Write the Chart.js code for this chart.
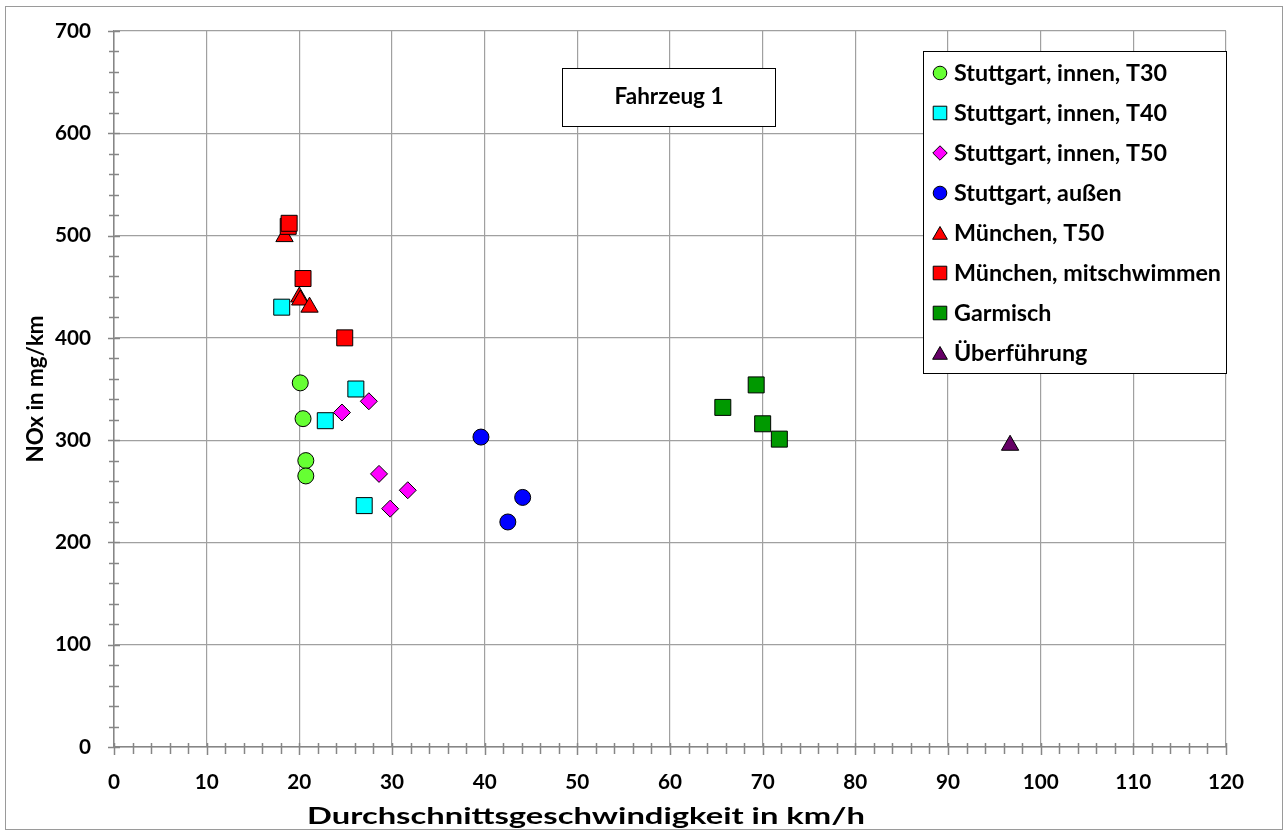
<!DOCTYPE html>
<html>
<head>
<meta charset="utf-8">
<script src="https://cdn.jsdelivr.net/npm/chart.js@4/dist/chart.umd.min.js"></script>
<style>
  html, body { margin: 0; padding: 0; background: #fff; }
  #wrap { position: relative; width: 1285px; height: 834px; }
</style>
</head>
<body>
<div id="wrap"><canvas id="noxChart"></canvas></div>
<script>
// values
const seriesNames = [
    'Stuttgart, innen, T30',
    'Stuttgart, innen, T40',
    'Stuttgart, innen, T50',
    'Stuttgart, außen',
    'München, T50',
    'München, mitschwimmen',
    'Garmisch',
    'Überführung'
];
const t30Speed = [20.1, 20.4, 20.7, 20.7];
const t30NOx = [356, 321, 280, 265];
const t40Speed = [18.1, 26.1, 22.8, 27.0];
const t40NOx = [430, 350, 319, 236];
const t50Speed = [27.5, 24.6, 28.6, 31.7, 29.8];
const t50NOx = [338, 327, 267, 251, 233];
const aussenSpeed = [39.6, 44.1, 42.5];
const aussenNOx = [303, 244, 220];
const muT50Speed = [18.4, 20.0, 20.1, 21.1];
const muT50NOx = [499, 440, 437, 430];
const muMitSpeed = [18.8, 18.9, 20.4, 24.9];
const muMitNOx = [509, 512, 458, 400];
const garmischSpeed = [69.3, 65.7, 70.0, 71.8];
const garmischNOx = [354, 332, 316, 301];
const ueberSpeed = [96.7];
const ueberNOx = [295];

const xTicks = [0, 10, 20, 30, 40, 50, 60, 70, 80, 90, 100, 110, 120];
const yTicks = [0, 100, 200, 300, 400, 500, 600, 700];

const FONT = 'Lato, "Open Sans", sans-serif';

function toPoints(xs, ys) {
    return xs.map((x, i) => ({ x: x, y: ys[i] }));
}

const styles = [
    { color: '#66ff33', shape: 'circle', r: 8 },
    { color: '#00ffff', shape: 'rect', r: 11.3 },
    { color: '#ff00ff', shape: 'rectRot', r: 8.5 },
    { color: '#0000ff', shape: 'circle', r: 8 },
    { color: '#ff0000', shape: 'triangle', r: 10 },
    { color: '#ff0000', shape: 'rect', r: 11.3 },
    { color: '#009900', shape: 'rect', r: 11.3 },
    { color: '#660066', shape: 'triangle', r: 10 }
];

const seriesData = [
    toPoints(t30Speed, t30NOx),
    toPoints(t40Speed, t40NOx),
    toPoints(t50Speed, t50NOx),
    toPoints(aussenSpeed, aussenNOx),
    toPoints(muT50Speed, muT50NOx),
    toPoints(muMitSpeed, muMitNOx),
    toPoints(garmischSpeed, garmischNOx),
    toPoints(ueberSpeed, ueberNOx)
];

const datasets = seriesNames.map((name, i) => ({
    label: name,
    data: seriesData[i],
    pointStyle: styles[i].shape,
    pointRadius: styles[i].r,
    pointHoverRadius: styles[i].r,
    backgroundColor: styles[i].color,
    borderColor: '#000',
    borderWidth: 1,
    order: seriesNames.length - i // later series drawn on top, like Excel
}));

// the reference text is a bit wider than Lato, so draw it with a horizontal scale
function stretchText(ctx, text, x, y, size, sx, align) {
    ctx.save();
    ctx.font = 'bold ' + size + 'px ' + FONT;
    ctx.textAlign = align;
    ctx.textBaseline = 'middle';
    ctx.translate(x, y);
    ctx.scale(sx, 1);
    ctx.fillText(text, 0, 0);
    ctx.restore();
}

function widthFactor(ctx, text, size, target) {
    ctx.save();
    ctx.font = 'bold ' + size + 'px ' + FONT;
    const w = ctx.measureText(text).width;
    ctx.restore();
    return target / w;
}

// outer frame, minor ticks, tick labels, text box, legend and axis titles
const Decorations = {
    id: 'decorations',
    beforeDraw(chart) {
        const ctx = chart.ctx;
        ctx.save();
        ctx.fillStyle = '#fff';
        ctx.fillRect(0, 0, chart.width, chart.height);
        ctx.strokeStyle = '#9a9a9a';
        ctx.lineWidth = 1;
        ctx.strokeRect(5.5, 6.5, 1277, 823);
        ctx.restore();
    },
    afterDraw(chart) {
        const ctx = chart.ctx;
        const xs = chart.scales.x;
        const ys = chart.scales.y;
        const x0 = xs.getPixelForValue(0);
        const y0 = ys.getPixelForValue(0);

        ctx.save();
        ctx.strokeStyle = '#868686';
        ctx.lineWidth = 1.5;
        ctx.beginPath();
        for (let v = 0; v <= 700; v += 20) {
            const py = Math.round(ys.getPixelForValue(v)) + 0.5;
            const len = v % 100 === 0 ? 6 : 5;
            ctx.moveTo(x0 - len, py);
            ctx.lineTo(x0 + len, py);
        }
        for (let v = 0; v <= 120; v += 2) {
            const px = Math.round(xs.getPixelForValue(v)) + 0.5;
            const len = v % 10 === 0 ? 6 : 5;
            ctx.moveTo(px, y0 - 4);
            ctx.lineTo(px, y0 + len + 2);
        }
        ctx.stroke();

        ctx.fillStyle = '#000';

        // tick labels
        const tickSx = widthFactor(ctx, '700', 21, 36);
        yTicks.forEach(v => {
            stretchText(ctx, String(v), x0 - 23, ys.getPixelForValue(v), 21, tickSx, 'right');
        });
        xTicks.forEach(v => {
            stretchText(ctx, String(v), xs.getPixelForValue(v), y0 + 35, 21, tickSx, 'center');
        });

        // axis titles
        const xTitle = 'Durchschnittsgeschwindigkeit in km/h';
        stretchText(ctx, xTitle, 586, 817, 22, widthFactor(ctx, xTitle, 22, 558), 'center');
        ctx.save();
        ctx.translate(36, (ys.top + ys.bottom) / 2);
        ctx.rotate(-Math.PI / 2);
        const yTitle = 'NOx in mg/km';
        stretchText(ctx, yTitle, 0, 0, 22, widthFactor(ctx, yTitle, 22, 147), 'center');
        ctx.restore();

        // "Fahrzeug 1" text box
        ctx.fillStyle = '#fff';
        ctx.fillRect(562.5, 68.5, 213, 58);
        ctx.strokeStyle = '#000';
        ctx.lineWidth = 1;
        ctx.strokeRect(562.5, 68.5, 213, 58);
        ctx.fillStyle = '#000';
        stretchText(ctx, 'Fahrzeug 1', 669, 97, 22, widthFactor(ctx, 'Fahrzeug 1', 22, 109), 'center');

        // legend
        ctx.fillStyle = '#fff';
        ctx.fillRect(923.5, 51.5, 303, 322);
        ctx.strokeStyle = '#000';
        ctx.strokeRect(923.5, 51.5, 303, 322);
        const legSx = widthFactor(ctx, 'München, mitschwimmen', 22, 267);
        seriesNames.forEach((name, i) => {
            const cy = 73 + i * 40;
            ctx.fillStyle = styles[i].color;
            ctx.strokeStyle = '#000';
            ctx.lineWidth = 1;
            Chart.helpers.drawPoint(ctx, {
                pointStyle: styles[i].shape,
                radius: styles[i].r * 0.85,
                rotation: 0,
                borderWidth: 1
            }, 940, styles[i].shape === 'triangle' ? cy + 2 : cy);
            ctx.fillStyle = '#000';
            stretchText(ctx, name, 954, cy + 1, 22, legSx, 'left');
        });
        ctx.restore();
    }
};

const ctxEl = document.getElementById('noxChart');
new Chart(ctxEl, {
    type: 'scatter',
    data: { datasets: datasets },
    plugins: [Decorations],
    options: {
        responsive: true,
        maintainAspectRatio: false,
        animation: false,
        layout: { padding: { top: 31, right: 59, left: 0, bottom: 0 } },
        plugins: {
            legend: { display: false },
            tooltip: { enabled: false }
        },
        scales: {
            x: {
                type: 'linear',
                min: 0,
                max: 120,
                afterFit(scale) { scale.height = 87; },
                afterBuildTicks(scale) {
                    scale.ticks = xTicks.map(v => ({ value: v }));
                },
                grid: { color: '#a0a0a0', lineWidth: 1.2, drawTicks: false },
                border: { color: '#868686', width: 1.5 },
                ticks: { display: false }
            },
            y: {
                type: 'linear',
                min: 0,
                max: 700,
                afterFit(scale) { scale.width = 114; },
                afterBuildTicks(scale) {
                    scale.ticks = yTicks.map(v => ({ value: v }));
                },
                grid: { color: '#a0a0a0', lineWidth: 1.2, drawTicks: false },
                border: { color: '#868686', width: 1.5 },
                ticks: { display: false }
            }
        }
    }
});
</script>
</body>
</html>
